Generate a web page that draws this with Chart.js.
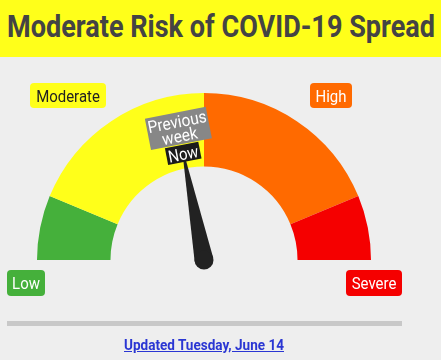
<!DOCTYPE html>
<html>
<head>
<meta charset="utf-8">
<script src="https://cdn.jsdelivr.net/npm/chart.js@4.4.1/dist/chart.umd.min.js"></script>
<style>
  html, body { margin: 0; padding: 0; width: 441px; height: 360px; overflow: hidden; background: #eeeeee; font-family: Roboto, sans-serif; }
  #gaugeBox { position: absolute; left: 0; top: 0; width: 441px; height: 360px; }
  #titleBar { position: absolute; left: 0; top: 0; width: 441px; height: 57px; background: #ffff1a; }
  #titleBar span { position: absolute; left: 7px; top: 10.6px; font-size: 31px; line-height: 31px; font-weight: bold; color: #444; white-space: nowrap; transform-origin: 0 0; }
  #rule { position: absolute; left: 7px; top: 321px; width: 395px; height: 5px; background: #c8c8c8; }
  #updated { position: absolute; left: 124px; top: 338.4px; font-size: 15px; line-height: 15px; font-weight: bold; color: #2a36d3; white-space: nowrap; transform-origin: 0 0; }
</style>
</head>
<body>
<div id="gaugeBox"><canvas id="gauge"></canvas></div>
<div id="titleBar"><span id="title"></span></div>
<div id="rule"></div>
<a id="updated" href="#"></a>

<script>
const bandNames = ['Low', 'Moderate', 'High', 'Severe'];
const bandSizes = [10, 30, 30, 10];
const bandColors = ['#45b03b', '#ffff1a', '#ff6a00', '#f50000'];
const currentValue = 35.1;
const previousValue = 35.1;
const titleText = 'Moderate Risk of COVID-19 Spread';
const updatedText = 'Updated Tuesday, June 14';

// squeeze regular Roboto to look like the condensed face in the picture
function fitWidth(el, target) {
    var w = el.getBoundingClientRect().width;
    el.style.transform = 'scaleX(' + (target / w) + ')';
}

function condText(ctx, text, x, y, size, color, sx) {
    ctx.save();
    ctx.font = size + 'px Roboto';
    ctx.fillStyle = color;
    ctx.textAlign = 'center';
    ctx.textBaseline = 'alphabetic';
    ctx.translate(x, y + size * 0.355);
    ctx.scale(sx || 0.88, 1);
    ctx.fillText(text, 0, 0);
    ctx.restore();
}

function roundBox(ctx, x, y, w, h, r, color) {
    ctx.beginPath();
    ctx.roundRect(x - w / 2, y - h / 2, w, h, r);
    ctx.fillStyle = color;
    ctx.fill();
}

function valueAngle(chart, v) {
    var arcs = chart.getDatasetMeta(0).data;
    var a0 = arcs[0].startAngle;
    var a1 = arcs[arcs.length - 1].endAngle;
    var total = bandSizes.reduce(function(a, b) { return a + b; }, 0);
    return a0 + (v / total) * (a1 - a0);
}

const gaugeExtras = {
    id: 'gaugeExtras',
    afterDatasetsDraw: function(chart) {
        var ctx = chart.ctx;
        var arc = chart.getDatasetMeta(0).data[0];
        var cx = arc.x, cy = arc.y;

        // band labels
        roundBox(ctx, cx - 136, cy - 164.5, 76, 25, 4, bandColors[1]);
        condText(ctx, bandNames[1], cx - 136, cy - 164.5, 17, '#222');
        roundBox(ctx, cx + 127, cy - 164.5, 42, 25, 4, bandColors[2]);
        condText(ctx, bandNames[2], cx + 127, cy - 164.5, 17, '#fff');
        roundBox(ctx, cx - 178, cy + 23, 38, 26, 4, bandColors[0]);
        condText(ctx, bandNames[0], cx - 178, cy + 23, 17, '#fff');
        roundBox(ctx, cx + 170, cy + 23, 56, 26, 4, bandColors[3]);
        condText(ctx, bandNames[3], cx + 170, cy + 23, 17, '#fff');

        // needle
        var a = valueAngle(chart, currentValue);
        var ux = Math.cos(a), uy = Math.sin(a);
        var px = -uy, py = ux;
        var len = 101;
        ctx.save();
        ctx.fillStyle = '#222';
        ctx.beginPath();
        ctx.moveTo(cx + px * 9.5, cy + py * 9.5);
        ctx.lineTo(cx + ux * len + px * 1.3, cy + uy * len + py * 1.3);
        ctx.lineTo(cx + ux * len - px * 1.3, cy + uy * len - py * 1.3);
        ctx.lineTo(cx - px * 9.5, cy - py * 9.5);
        ctx.closePath();
        ctx.fill();
        ctx.beginPath();
        ctx.arc(cx, cy, 9.5, 0, Math.PI * 2);
        ctx.fill();
        ctx.restore();

        // previous week tag
        var b = valueAngle(chart, previousValue);
        ctx.save();
        ctx.translate(cx + Math.cos(b) * 134, cy + Math.sin(b) * 134);
        ctx.rotate(b + Math.PI / 2);
        roundBox(ctx, 0, 0, 62, 32, 0, '#878787');
        condText(ctx, 'Previous', 0, -7, 17, '#fff', 0.91);
        condText(ctx, 'week', 0, 7.5, 17, '#fff', 0.91);
        ctx.restore();

        // now tag
        ctx.save();
        ctx.translate(cx + ux * 108.7, cy + uy * 108.7);
        ctx.rotate(a + Math.PI / 2);
        roundBox(ctx, 0, 0, 34, 17, 0, '#1c1c1c');
        condText(ctx, 'Now', 0, 0.5, 17, '#fff');
        ctx.restore();
    }
};

document.addEventListener('DOMContentLoaded', function() {
    var t = document.getElementById('title');
    t.textContent = titleText;
    fitWidth(t, 428);
    var u = document.getElementById('updated');
    u.textContent = updatedText;
    fitWidth(u, 160);

    const data = {
        labels: bandNames,
        datasets: [{
            data: bandSizes,
            backgroundColor: bandColors,
            borderWidth: 0
        }]
    };

    const config = {
        type: 'doughnut',
        data: data,
        options: {
            responsive: true,
            maintainAspectRatio: false,
            animation: false,
            rotation: -90,
            circumference: 180,
            cutout: '56%',
            layout: {
                padding: { left: 37, right: 70, top: 93, bottom: 100 }
            },
            plugins: {
                legend: { display: false },
                tooltip: { enabled: false }
            }
        },
        plugins: [gaugeExtras]
    };

    const gauge = new Chart(document.getElementById('gauge'), config);
});
</script>
</body>
</html>
